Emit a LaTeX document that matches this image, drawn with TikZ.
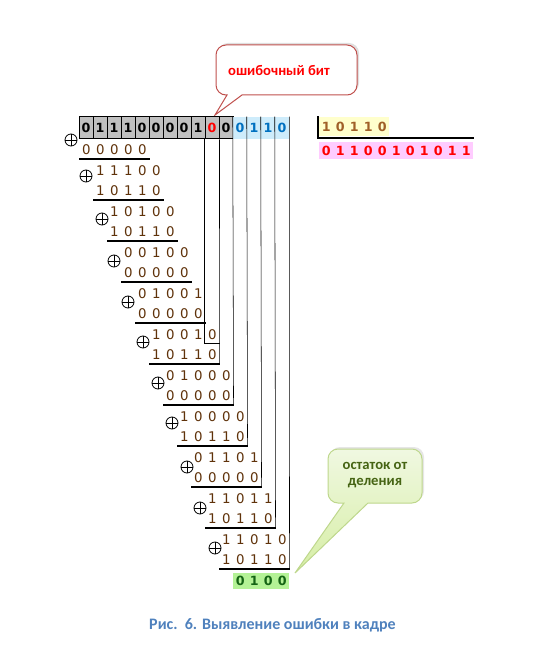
\documentclass[tikz,border=0pt]{standalone}
\usepackage{fontspec}
\setmainfont{Carlito}
\newfontfamily\bitfont{DejaVu Sans}
\usepackage{xcolor}
\usepackage{tikz}
\usetikzlibrary{shadows}

\makeatletter
\newcommand{\bitrow}[1]{\@tfor\bitchar:=#1\do{\makebox[10.5pt]{\bitchar}}}
\makeatother

\begin{document}
\begin{tikzpicture}[x=0.75pt,y=0.75pt,yscale=-1,xscale=1,
  topcell/.style={draw, line width=0.75, fill={rgb, 255:red, 192; green, 192; blue, 192}, minimum width=10.5pt, minimum height=16.5pt, inner sep=0pt, font=\bitfont\bfseries\fontsize{9.5}{9.5}\selectfont},
  bluecell/.style={fill={rgb, 255:red, 206; green, 236; blue, 251}, text={rgb, 255:red, 0; green, 112; blue, 192}, minimum width=10.5pt, minimum height=16.5pt, inner sep=0pt, font=\bitfont\bfseries\fontsize{9.5}{9.5}\selectfont},
  dividend/.style={anchor=west, inner sep=0pt, minimum height=12pt, text={rgb, 255:red, 95; green, 50; blue, 10}, font=\bitfont\fontsize{10}{10}\selectfont},
  subtrahend/.style={dividend, minimum height=14.25pt},
  sumline/.style={line width=1.5},
  xorsign/.style={circle, draw, line width=0.6, minimum size=9pt, inner sep=0pt, path picture={\draw [line width=0.6] (path picture bounding box.north) -- (path picture bounding box.south) (path picture bounding box.west) -- (path picture bounding box.east);}},
  errcallout/.style={draw={rgb, 255:red, 192; green, 80; blue, 77}, line width=0.75, fill=white, drop shadow={shadow xshift=1.5pt, shadow yshift=1.5pt, opacity=0.25}},
  remcallout/.style={draw={rgb, 255:red, 190; green, 215; blue, 140}, line width=0.75, top color={rgb, 255:red, 240; green, 248; blue, 225}, bottom color={rgb, 255:red, 214; green, 238; blue, 165}, drop shadow={shadow xshift=1.5pt, shadow yshift=1.5pt, opacity=0.2}},
  calltext/.style={font=\bfseries\fontsize{11}{12}\selectfont, align=center}]
\useasboundingbox (0,0) rectangle (557,649);

%Shape: Callout
\draw [errcallout] (242,95) [rounded corners=7.5pt] -- (357,95) -- (357,45) -- (216,45) -- (216,95) [sharp corners] -- (227,95) -- (215,115) -- cycle ;
% Text Node
\draw (279,71) node [calltext, text={rgb, 255:red, 255; green, 0; blue, 0 }] (errlbl) {ошибочный бит};

%Shape: Callout
\draw [remcallout] (368,503) [rounded corners=7.5pt] -- (422,503) -- (422,449) -- (328,449) -- (328,503) [sharp corners] -- (344,503) -- (295,573) -- cycle ;
% Text Node
\draw (375,475) node [calltext, text={rgb, 255:red, 70; green, 100; blue, 20 }] (remlbl) {остаток от\\деления};

% Frame bits
\draw (86,128) node [topcell] (t0) {0};
\draw (100,128) node [topcell] (t1) {1};
\draw (114,128) node [topcell] (t2) {1};
\draw (128,128) node [topcell] (t3) {1};
\draw (142,128) node [topcell] (t4) {0};
\draw (156,128) node [topcell] (t5) {0};
\draw (170,128) node [topcell] (t6) {0};
\draw (184,128) node [topcell] (t7) {0};
\draw (198,128) node [topcell] (t8) {1};
\draw (212,128) node [topcell, text={rgb, 255:red, 255; green, 0; blue, 0 }] (t9) {0};
\draw (226,128) node [topcell] (t10) {0};
\draw (240,128) node [bluecell] (t11) {0};
\draw (254,128) node [bluecell] (t12) {1};
\draw (268,128) node [bluecell] (t13) {1};
\draw (282,128) node [bluecell] (t14) {0};

% Generator and quotient
\draw (319,126.5) node [anchor=west, inner sep=0pt, minimum height=14.25pt, fill={rgb, 255:red, 255; green, 255; blue, 204}, text={rgb, 255:red, 160; green, 96; blue, 40}, font=\bitfont\bfseries\fontsize{9.5}{9.5}\selectfont] (gen) {\bitrow{10110}};
\draw (319,150.5) node [anchor=west, inner sep=0pt, minimum height=12.75pt, fill={rgb, 255:red, 255; green, 204; blue, 255}, text={rgb, 255:red, 255; green, 0; blue, 0}, font=\bitfont\bfseries\fontsize{9.5}{9.5}\selectfont] (quot) {\bitrow{01100101011}};
%Straight Lines
\draw [sumline] (318,116.5) -- (318,138) -- (474,138) ;

% Division steps
\draw (71,140) node [xorsign] (x0) {};
\draw (79,149.5) node [subtrahend] (s0) {\bitrow{00000}};
\draw (86,176) node [xorsign] (x1) {};
\draw (93,171) node [dividend] (d1) {\bitrow{11100}};
\draw (93,190.5) node [subtrahend] (s1) {\bitrow{10110}};
\draw (102,219) node [xorsign] (x2) {};
\draw (107,212) node [dividend] (d2) {\bitrow{10100}};
\draw (107,231.5) node [subtrahend] (s2) {\bitrow{10110}};
\draw (114,261) node [xorsign] (x3) {};
\draw (121,253) node [dividend] (d3) {\bitrow{00100}};
\draw (121,272.5) node [subtrahend] (s3) {\bitrow{00000}};
\draw (128,302) node [xorsign] (x4) {};
\draw (135,294) node [dividend] (d4) {\bitrow{01001}};
\draw (135,313.5) node [subtrahend] (s4) {\bitrow{00000}};
\draw (143,342) node [xorsign] (x5) {};
\draw (149,335) node [dividend] (d5) {\bitrow{10010}};
\draw (149,354.5) node [subtrahend] (s5) {\bitrow{10110}};
\draw (158,383) node [xorsign] (x6) {};
\draw (163,376) node [dividend] (d6) {\bitrow{01000}};
\draw (163,395.5) node [subtrahend] (s6) {\bitrow{00000}};
\draw (172,423) node [xorsign] (x7) {};
\draw (177,417) node [dividend] (d7) {\bitrow{10000}};
\draw (177,436.5) node [subtrahend] (s7) {\bitrow{10110}};
\draw (187,467) node [xorsign] (x8) {};
\draw (191,458) node [dividend] (d8) {\bitrow{01101}};
\draw (191,477.5) node [subtrahend] (s8) {\bitrow{00000}};
\draw (200,508) node [xorsign] (x9) {};
\draw (205,499) node [dividend] (d9) {\bitrow{11011}};
\draw (205,518.5) node [subtrahend] (s9) {\bitrow{10110}};
\draw (215,548) node [xorsign] (x10) {};
\draw (219,540) node [dividend] (d10) {\bitrow{11010}};
\draw (219,559.5) node [subtrahend] (s10) {\bitrow{10110}};
\draw (233,581) node [anchor=west, inner sep=0pt, minimum height=12pt, fill={rgb, 255:red, 180; green, 242; blue, 150}, text={rgb, 255:red, 20; green, 100; blue, 20}, font=\bitfont\bfseries\fontsize{9.5}{9.5}\selectfont] (rem) {\bitrow{0100}};

%Straight Lines
\draw [sumline] (s0.south west) -- (s0.south east) ;
\draw [sumline] (s1.south west) -- (s1.south east) ;
\draw [sumline] (s2.south west) -- (s2.south east) ;
\draw [sumline] (s3.south west) -- (s3.south east) ;
\draw [sumline] (s4.south west) -- (s4.south east) ;
\draw [sumline] (s5.south west) -- (s5.south east) ;
\draw [sumline] (s6.south west) -- (s6.south east) ;
\draw [sumline] (s7.south west) -- (s7.south east) ;
\draw [sumline] (s8.south west) -- (s8.south east) ;
\draw [sumline] (s9.south west) -- (s9.south east) ;
\draw [sumline] (s10.south west) -- (s10.south east) ;

%Straight Lines
\draw (t9.south west) |- (d5.south east) ;
\draw (t9.south east) -- (s5.south east) ;
\draw (t11.north west) -- (s6.south east) ;
\draw (t12.north west) -- (s7.south east) ;
\draw (t13.north west) -- (s8.south east) ;
\draw (t14.north west) -- (s9.south east) ;
\draw (t14.north east) -- (s10.south east) ;

% Text Node
\draw (272.5,625) node [font=\bfseries\fontsize{12}{14}\selectfont, text={rgb, 255:red, 79; green, 129; blue, 189 }] (cap) {Рис.\ \ 6. Выявление ошибки в кадре};

\end{tikzpicture}
\end{document}
